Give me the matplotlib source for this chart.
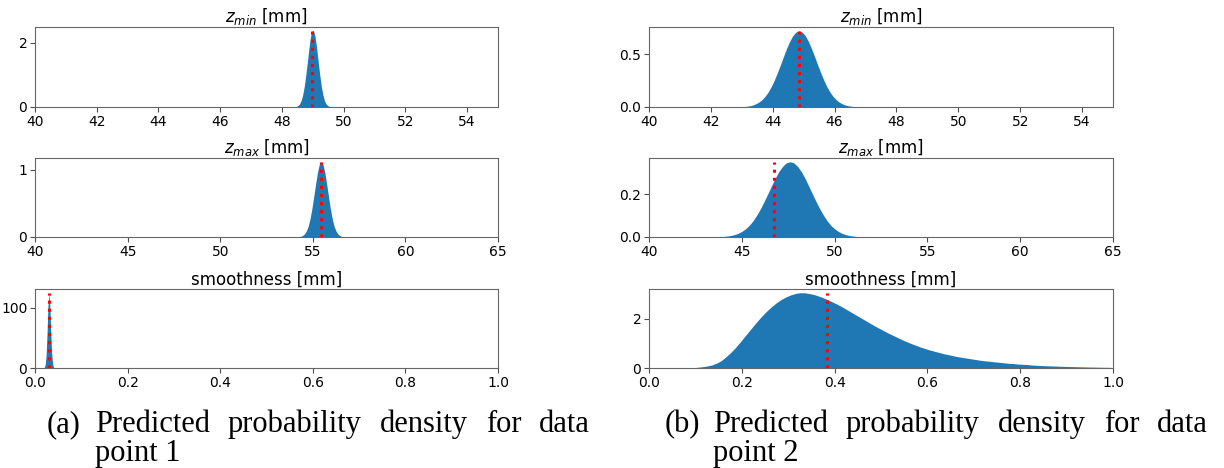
import numpy as np
import matplotlib
matplotlib.use("Agg")
import matplotlib.pyplot as plt

W, H = 1224, 468

# histogram densities: (first bin edge, bin width, heights)
zmin1_lo, zmin1_w = 48.40, 0.05
zmin1_dens = [0.01, 0.02, 0.05, 0.10, 0.21, 0.39, 0.65, 1.00, 1.41, 1.83, 2.18, 2.37,
              2.37, 2.18, 1.83, 1.41, 1.00, 0.65, 0.39, 0.21, 0.10, 0.05, 0.02, 0.01]
zmax1_lo, zmax1_w = 54.2, 0.1
zmax1_dens = [0.004, 0.01, 0.022, 0.046, 0.09, 0.16, 0.27, 0.42, 0.60, 0.785, 0.96, 1.08, 1.12,
              1.08, 0.96, 0.785, 0.60, 0.42, 0.27, 0.16, 0.09, 0.046, 0.022, 0.01, 0.004]
smooth1_lo, smooth1_w = 0.017, 0.002
smooth1_dens = [0.1, 1.0, 5.5, 21, 57, 103, 125, 104, 60, 24, 7, 1.5, 0.2]

zmin2_lo, zmin2_w = 43.0, 0.1
zmin2_dens = [0.0037, 0.0065, 0.011, 0.018, 0.030, 0.046, 0.069, 0.100, 0.141, 0.192, 0.254,
              0.324, 0.400, 0.479, 0.555, 0.622, 0.675, 0.708, 0.720, 0.708, 0.675, 0.622,
              0.555, 0.479, 0.400, 0.324, 0.254, 0.192, 0.141, 0.100, 0.069, 0.046, 0.030,
              0.018, 0.011, 0.0065, 0.0037]
zmax2_lo, zmax2_w = 43.7, 0.2
zmax2_dens = [0.0013, 0.0024, 0.0041, 0.0068, 0.011, 0.017, 0.026, 0.038, 0.054, 0.075, 0.101,
              0.131, 0.165, 0.201, 0.238, 0.274, 0.305, 0.329, 0.345, 0.350, 0.345, 0.329,
              0.305, 0.274, 0.238, 0.201, 0.165, 0.131, 0.101, 0.075, 0.054, 0.038, 0.026,
              0.017, 0.011, 0.0068, 0.0041, 0.0024, 0.0013]
smooth2_lo, smooth2_w = 0.09, 0.01
smooth2_dens = [0.01, 0.03, 0.05, 0.08, 0.12, 0.19, 0.29, 0.44, 0.61, 0.80, 1.02,
                1.25, 1.48, 1.71, 1.93, 2.14, 2.33, 2.50, 2.65, 2.78, 2.88,
                2.96, 3.02, 3.05, 3.05, 3.02, 2.98, 2.92, 2.85, 2.77, 2.68,
                2.59, 2.49, 2.38, 2.27, 2.16, 2.05, 1.94, 1.83, 1.72, 1.62,
                1.52, 1.42, 1.33, 1.24, 1.15, 1.07, 0.99, 0.92, 0.85, 0.79,
                0.73, 0.68, 0.63, 0.58, 0.54, 0.50, 0.46, 0.43, 0.40, 0.37,
                0.34, 0.31, 0.29, 0.27, 0.25, 0.23, 0.21, 0.19, 0.18, 0.16,
                0.15, 0.14, 0.12, 0.11, 0.10, 0.09, 0.085, 0.08, 0.07, 0.065,
                0.06, 0.055, 0.05, 0.045, 0.04, 0.037, 0.034, 0.03, 0.028, 0.025]

# true values (red dotted lines)
true1 = [48.97, 55.45, 0.0302]
true2 = [44.85, 46.75, 0.383]

titles = ["$z_{min}$ [mm]", "$z_{max}$ [mm]", "smoothness [mm]"]
xlims = [(40, 55), (40, 65), (0, 1)]
xticks = [np.arange(40, 55, 2), np.arange(40, 66, 5), np.arange(0, 1.01, 0.2)]
yticks1 = [[0, 2], [0, 1], [0, 100]]
yticks2 = [[0.0, 0.5], [0.0, 0.2], [0, 2]]

col1 = [(zmin1_lo, zmin1_w, zmin1_dens), (zmax1_lo, zmax1_w, zmax1_dens),
        (smooth1_lo, smooth1_w, smooth1_dens)]
col2 = [(zmin2_lo, zmin2_w, zmin2_dens), (zmax2_lo, zmax2_w, zmax2_dens),
        (smooth2_lo, smooth2_w, smooth2_dens)]

fig = plt.figure(figsize=(W / 100, H / 100), dpi=100)

# axes boxes in pixels: (left, right) per column, (top, bottom) per row
cols = [(35, 498), (649, 1113)]
rows = [(27, 107), (158, 237), (289, 368)]


def panel(ax, hist, true_val, i, yt, yfmt):
    lo, w, dens = hist
    edges = lo + w * np.arange(len(dens) + 1)
    centers = 0.5 * (edges[:-1] + edges[1:])
    # density outline through the bin centres, closed at the outer bin edges
    xs = np.concatenate([[edges[0]], centers, [edges[-1]]])
    ys = np.concatenate([[0], dens, [0]])
    ax.fill_between(xs, ys, color="#1f77b4", lw=0)
    ax.vlines(true_val, 0, max(dens), colors="red", linestyles=":", linewidth=2.2)
    ax.set_xlim(*xlims[i])
    ax.set_ylim(0, 1.05 * max(dens))
    ax.set_xticks(xticks[i])
    if i == 2:
        ax.set_xticklabels([f"{v:.1f}" for v in xticks[i]])
    ax.set_yticks(yt)
    ax.set_yticklabels([yfmt.format(v) for v in yt])
    ax.set_title(titles[i], fontsize=12, pad=3)
    ax.tick_params(labelsize=10, length=3.5, width=0.8, color="0.3", pad=2)
    for s in ax.spines.values():
        s.set_color("0.4")
        s.set_linewidth(0.8)


for c, (hists, trues, yts) in enumerate([(col1, true1, yticks1), (col2, true2, yticks2)]):
    for i in range(3):
        l, r = cols[c]
        t, b = rows[i]
        ax = fig.add_axes([l / W, 1 - b / H, (r - l) / W, (b - t) / H])
        fmt = "{:g}" if c == 0 or i == 2 else "{:.1f}"
        panel(ax, hists[i], trues[i], i, yts[i], fmt)

# sub-captions, justified like the LaTeX original
cap_font = dict(family="Liberation Serif", fontsize=22, color="black", va="baseline")
line1 = ["Predicted", "probability", "density", "for", "data"]
renderer = fig.canvas.get_renderer()


def caption(label, second, x_label, x_text, x_right, y1, y2):
    fig.text(x_label / W, 1 - y1 / H, label, **cap_font)
    objs = [fig.text(0, 1 - y1 / H, w, **cap_font) for w in line1]
    widths = [o.get_window_extent(renderer).width for o in objs]
    gap = (x_right - x_text - sum(widths)) / (len(objs) - 1)
    x = x_text
    for o, wd in zip(objs, widths):
        o.set_x(x / W)
        x += wd + gap
    fig.text(x_text / W, 1 - y2 / H, second, **cap_font)


caption("(a)", "point 1", 47, 95, 590, 432, 461)
caption("(b)", "point 2", 665, 713, 1208, 432, 461)

fig.savefig("out.png", dpi=100)
